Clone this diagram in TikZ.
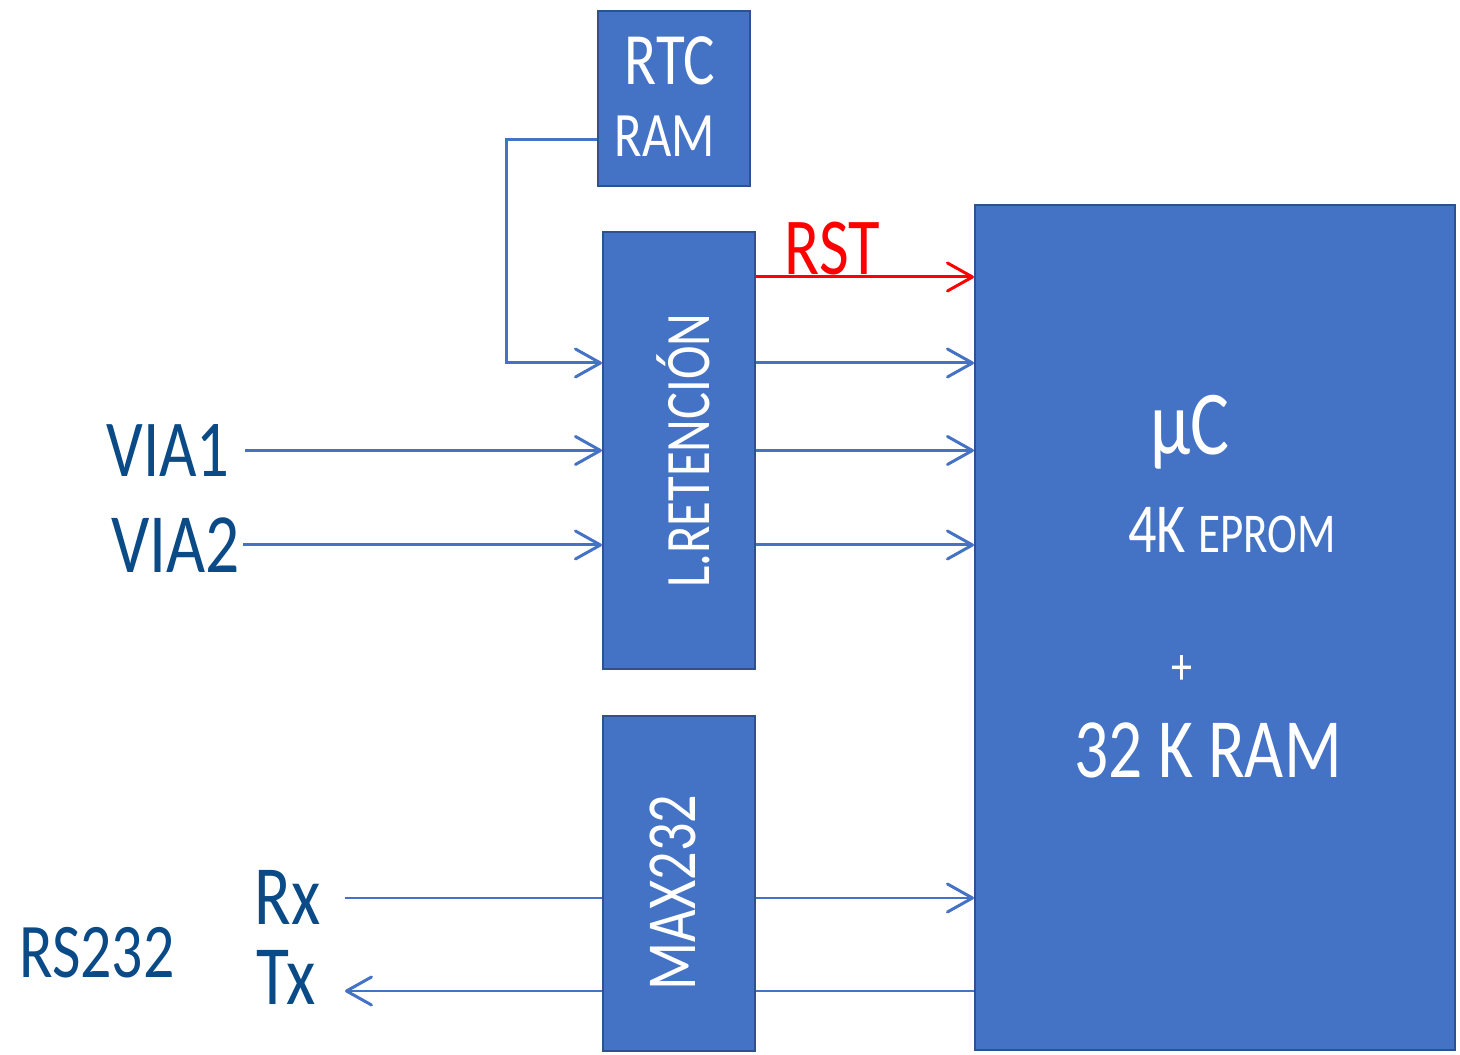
\documentclass[tikz,border=0pt]{standalone}
\usepackage{fontspec}
\usepackage{tikz}
\usetikzlibrary{arrows.meta,positioning,calc}
\usepackage{xcolor}
\newfontfamily\mano[FakeStretch=0.8]{Carlito}
\definecolor{cajaazul}{RGB}{68,114,196}
\definecolor{bordeazul}{RGB}{47,82,143}
\definecolor{tinta}{RGB}{10,75,135}
\definecolor{rojo}{RGB}{255,0,0}

\begin{document}
\begin{tikzpicture}[node distance=1cm,
  bloque/.style={rectangle, draw=bordeazul, line width=1.2pt, fill=cajaazul,
      text=white, inner sep=0pt, align=center},
  blanco/.style={text=white, font=\mano, inner sep=0pt},
  etiqueta/.style={text=tinta, font=\mano, inner sep=0pt},
  linea/.style={draw=cajaazul, line width=1.7pt},
  flecha/.style={linea, -{Straight Barb[length=5mm,width=5.6mm,round]}}]
\useasboundingbox (0,0) rectangle (29.2,21.1);
% bloques
\node[bloque, minimum width=3.04cm, minimum height=3.5cm] (rtc) at (13.48,19.13) {};
\node[bloque, minimum width=3.04cm, minimum height=8.74cm] (ret) at (13.58,12.09) {};
\node[bloque, minimum width=3.04cm, minimum height=6.7cm] (max) at (13.58,3.43) {};
\node[bloque, minimum width=9.6cm, minimum height=16.9cm] (uc) at (24.3,8.55) {};
% textos de los bloques
\node[blanco, font=\mano\fontsize{42}{42}\selectfont] (rtctxt) at (13.4,19.88) {RTC};
\node[blanco, font=\mano\fontsize{36}{36}\selectfont] (ramtxt) at (13.3,18.38) {RAM};
\node[blanco, rotate=90, font=\mano\fontsize{36}{36}\selectfont] (rettxt)
  at ([xshift=0.08cm]ret.center) {L.RETENCIÓN};
\node[blanco, rotate=90, font=\mano\fontsize{40}{40}\selectfont] (maxtxt)
  at ([xshift=-0.12cm,yshift=-0.18cm]max.center) {MAX232};
\node[blanco, font=\mano\fontsize{52}{52}\selectfont] (uctxt) at (23.8,12.45) {µC};
\node[blanco, font=\mano\fontsize{40}{40}\selectfont] (eprom) at (24.64,10.5)
  {4K {\fontsize{32}{32}\selectfont EPROM}};
\node[blanco, font=\mano\fontsize{30}{30}\selectfont] (mas) at (23.64,7.7) {+};
\node[blanco, font=\mano\fontsize{48}{48}\selectfont] (ram32) at (24.16,6.1) {32 K RAM};
% etiquetas
\node[etiqueta, anchor=east, font=\mano\fontsize{46}{46}\selectfont] (via1) at (4.6,12.09) {VIA1};
\node[etiqueta, anchor=east, font=\mano\fontsize{48}{48}\selectfont] (via2) at (4.8,10.2) {VIA2};
\node[etiqueta, font=\mano\fontsize{48}{48}\selectfont] (rx) at (5.75,3.15) {Rx};
\node[etiqueta, font=\mano\fontsize{48}{48}\selectfont] (tx) at (5.72,1.55) {Tx};
\node[etiqueta, font=\mano\fontsize{44}{44}\selectfont] (rs232) at (1.94,2.04) {RS232};
\coordinate (rxini) at (6.9,3.14);
\coordinate (txfin) at (6.9,1.28);
% conexiones
\draw[flecha] ([yshift=-0.83cm]rtc.west) -- ++(-1.8,0) |- ([yshift=1.75cm]ret.west);
\draw[flecha, draw=rojo] ([yshift=3.47cm]ret.east) -- ([yshift=3.47cm]ret.east -| uc.west)
  node[pos=0.35, above, inner sep=0pt, text=rojo, font=\mano\fontsize{46}{46}\selectfont] (rst) {RST};
\draw[flecha] ([yshift=1.75cm]ret.east) -- ([yshift=1.75cm]ret.east -| uc.west);
\draw[flecha] (ret.east) -- (ret.east -| uc.west);
\draw[flecha] ([yshift=-1.89cm]ret.east) -- ([yshift=-1.89cm]ret.east -| uc.west);
\draw[flecha] ([xshift=0.3cm]via1.east) -- (via1.east -| ret.west);
\draw[flecha] ([xshift=0.05cm]via2.east) -- (via2.east -| ret.west);
\draw[linea] (rxini) -- (rxini -| max.west);
\draw[flecha] ([yshift=-0.29cm]max.east) -- ([yshift=-0.29cm]max.east -| uc.west);
\draw[flecha] (txfin -| max.west) -- (txfin);
\draw[linea] ([yshift=-2.15cm]max.east) -- ([yshift=-2.15cm]max.east -| uc.west);
\end{tikzpicture}
\end{document}
